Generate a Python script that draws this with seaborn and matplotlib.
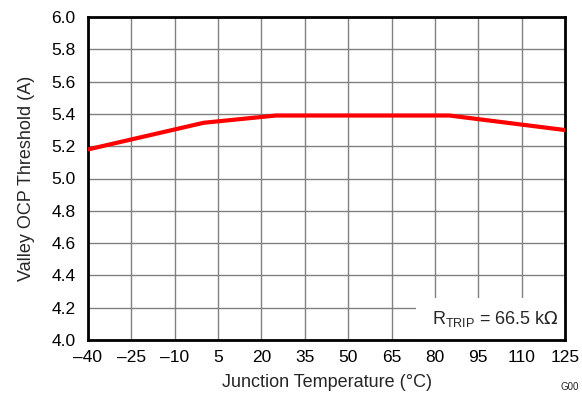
import matplotlib
matplotlib.use("Agg")
import matplotlib.pyplot as plt
import seaborn as sns
import pandas as pd

temps = [-40, 0, 25, 85, 125]
threshold = [5.18, 5.345, 5.39, 5.39, 5.30]
xticks = [-40, -25, -10, 5, 20, 35, 50, 65, 80, 95, 110, 125]
yticks = [4.0, 4.2, 4.4, 4.6, 4.8, 5.0, 5.2, 5.4, 5.6, 5.8, 6.0]

sns.set_style("white")
plt.rcParams['font.family'] = ['Liberation Sans', 'DejaVu Sans']

df = pd.DataFrame({"T": temps, "V": threshold})

fig = plt.figure(figsize=(5.82, 3.94), dpi=100)
ax = fig.add_axes([88/582, 54/394, (565-88)/582, (340-17)/394])

sns.lineplot(data=df, x="T", y="V", ax=ax, color="#ff0000", linewidth=3, zorder=3)

ax.set_xlim(-40, 125)
ax.set_ylim(4.0, 6.0)
ax.set_xticks(xticks)
ax.set_xticklabels([str(t).replace('-', '\u2013') for t in xticks])
ax.set_yticks(yticks)
ax.set_yticklabels([f"{v:.1f}" for v in yticks])
ax.grid(True, color="#808080", linewidth=1)
ax.set_axisbelow(True)
ax.tick_params(axis='both', length=0, labelsize=12.5, colors="black")
ax.tick_params(axis='x', pad=7)
ax.tick_params(axis='y', pad=9)
for s in ax.spines.values():
    s.set_visible(True)
    s.set_color("black")
    s.set_linewidth(2)

ax.set_xlabel("Junction Temperature (\u00b0C)", fontsize=13, labelpad=7)
ax.set_ylabel("Valley OCP Threshold (A)", fontsize=13, labelpad=12)

# white box with annotation
from matplotlib.patches import Rectangle
ax.add_patch(Rectangle((73.5, 4.0), 125 - 73.5, 0.26, facecolor="white",
                       edgecolor="none", zorder=2))
ax.text(123, 4.13, r"R$_{\mathregular{TRIP}}$ = 66.5 k$\Omega$", ha="right", va="center",
        fontsize=13, zorder=4)

fig.text(570/582, 1 - 387/394, "G00", fontsize=7, ha="center", va="center")

fig.savefig("out.png", dpi=100)
